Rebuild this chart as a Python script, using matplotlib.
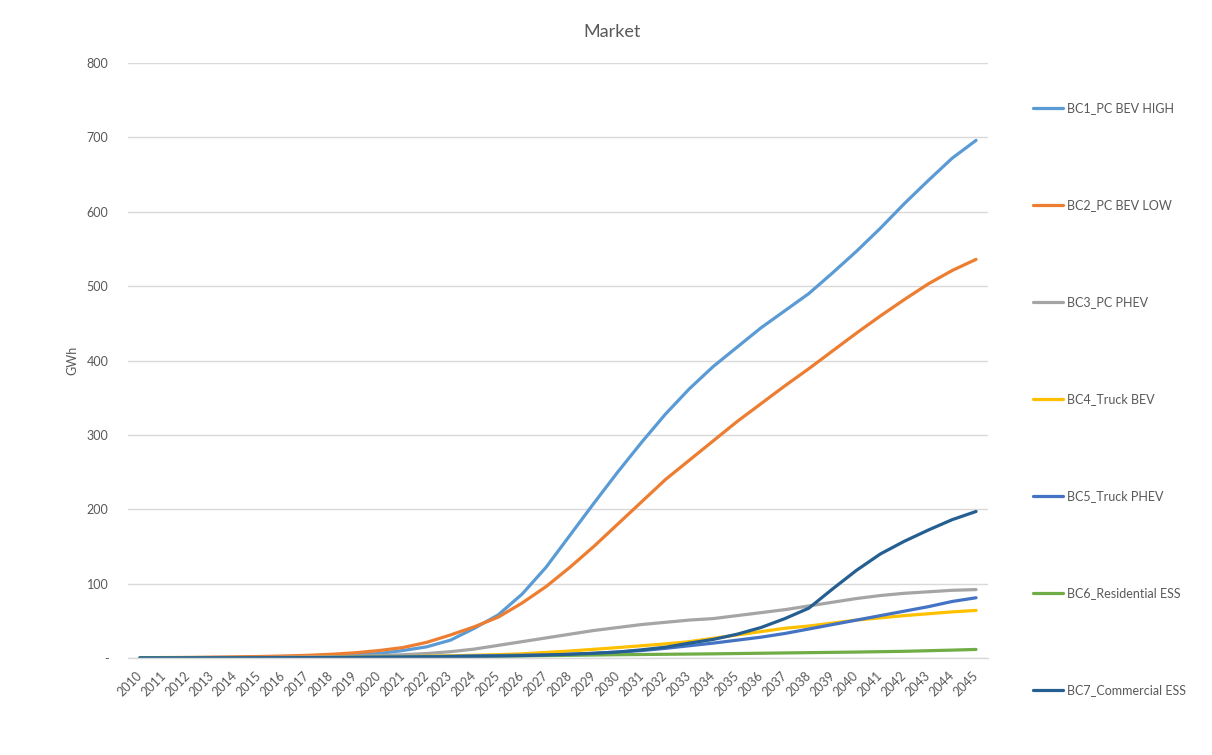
import matplotlib
matplotlib.use("Agg")
import matplotlib.pyplot as plt

plt.rcParams['font.family'] = ['Lato', 'DejaVu Sans']

years = list(range(2010, 2046))

bc1_pc_bev_high = [0.3, 0.4, 0.5, 0.7, 0.9, 1.2, 1.6, 2.2, 3.0, 4.2,
                   6, 10, 15, 24, 40, 58, 86, 122, 165, 208,
                   250, 290, 328, 362, 392, 418, 444, 467, 490, 518,
                   547, 578, 611, 642, 672, 696]
bc2_pc_bev_low = [0.4, 0.6, 0.8, 1.1, 1.5, 2.0, 2.7, 3.6, 5.0, 7.0,
                  10, 14, 21, 31, 42, 55, 74, 96, 122, 150,
                  180, 210, 240, 266, 292, 318, 342, 366, 389, 413,
                  437, 460, 482, 503, 521, 536]
bc3_pc_phev = [0.1, 0.2, 0.3, 0.4, 0.5, 0.7, 0.9, 1.2, 1.6, 2.3,
               3.2, 4.4, 6, 8.5, 12, 17, 22, 27, 32, 37,
               41, 45, 48, 51, 53, 57, 61, 65, 70, 75,
               80, 84, 87, 89, 91, 92]
bc4_truck_bev = [0.1, 0.1, 0.2, 0.2, 0.3, 0.4, 0.5, 0.7, 0.9, 1.2,
                 1.5, 1.9, 2.4, 3.0, 3.7, 4.5, 5.6, 7.5, 9.4, 11.7,
                 14, 16.5, 19, 22, 26.5, 31, 35.5, 40, 43, 47,
                 51, 54, 57, 59.5, 62, 64]
bc5_truck_phev = [0.1, 0.1, 0.1, 0.2, 0.2, 0.3, 0.4, 0.5, 0.7, 0.9,
                  1.2, 1.5, 1.9, 2.3, 2.8, 3.3, 3.7, 4, 5, 6.3,
                  8, 10, 13, 16.5, 20, 24, 28, 33, 39, 45,
                  51, 57, 63, 69, 76, 81]
bc6_residential_ess = [0.1, 0.1, 0.1, 0.2, 0.2, 0.3, 0.4, 0.5, 0.6, 0.8,
                       1.0, 1.2, 1.4, 1.7, 2.0, 2.4, 2.8, 3.2, 3.6, 4.0,
                       4.4, 4.7, 5.0, 5.3, 5.6, 6.0, 6.4, 6.8, 7.2, 7.6,
                       8.0, 8.5, 9.0, 9.8, 10.6, 11.5]
bc7_commercial_ess = [0.1, 0.1, 0.1, 0.2, 0.2, 0.3, 0.4, 0.5, 0.6, 0.8,
                      1.0, 1.2, 1.5, 1.8, 2.2, 2.6, 3.2, 4, 5, 6.3,
                      8, 11, 14.5, 20, 25, 32, 41, 53, 67, 93,
                      118, 140, 157, 172, 186, 197]

series = [
    ("BC1_PC BEV HIGH", bc1_pc_bev_high, "#5B9BD5"),
    ("BC2_PC BEV LOW", bc2_pc_bev_low, "#ED7D31"),
    ("BC3_PC PHEV", bc3_pc_phev, "#A5A5A5"),
    ("BC4_Truck BEV", bc4_truck_bev, "#FFC000"),
    ("BC5_Truck PHEV", bc5_truck_phev, "#4472C4"),
    ("BC6_Residential ESS", bc6_residential_ess, "#70AD47"),
    ("BC7_Commercial ESS", bc7_commercial_ess, "#255E91"),
]

text_color = "#595959"
grid_color = "#D9D9D9"

fig = plt.figure(figsize=(12.12, 7.55), dpi=100)
ax = fig.add_axes([128 / 1212, 1 - 658 / 755, 860 / 1212, 595 / 755])

x = list(range(len(years)))
for label, vals, color in series:
    ax.plot(x, vals, color=color, lw=2.3, label=label,
            solid_capstyle="round", solid_joinstyle="round")

ax.set_xlim(-0.5, len(years) - 0.5)
ax.set_ylim(0, 800)
ax.set_yticks(range(0, 801, 100))
ax.set_yticklabels(["-"] + [str(v) for v in range(100, 801, 100)])
ax.set_xticks(x)
ax.set_xticklabels([str(y) for y in years], rotation=45, ha="right",
                   va="center", rotation_mode="anchor")

ax.grid(axis="y", color=grid_color, lw=1.0)
ax.set_axisbelow(True)
for side in ("top", "right", "left"):
    ax.spines[side].set_visible(False)
ax.spines["bottom"].set_color(grid_color)
ax.spines["bottom"].set_linewidth(1.0)
ax.tick_params(axis="both", length=0, colors=text_color, labelsize=9)
ax.tick_params(axis="y", pad=14)
ax.tick_params(axis="x", pad=11)

ax.set_ylabel("GWh", color=text_color, fontsize=9, labelpad=6)

fig.text(0.505, 1 - 32 / 755, "Market", ha="center", va="center",
         fontsize=13, color=text_color)

leg = ax.legend(loc="upper left", bbox_to_anchor=(1028 / 1212, 1 - 97 / 755),
                bbox_transform=fig.transFigure, frameon=False,
                fontsize=9, labelspacing=6.8, handlelength=2.4,
                handletextpad=0.3, borderaxespad=0)
for t in leg.get_texts():
    t.set_color(text_color)

fig.savefig("out.png", dpi=100, facecolor="white")
